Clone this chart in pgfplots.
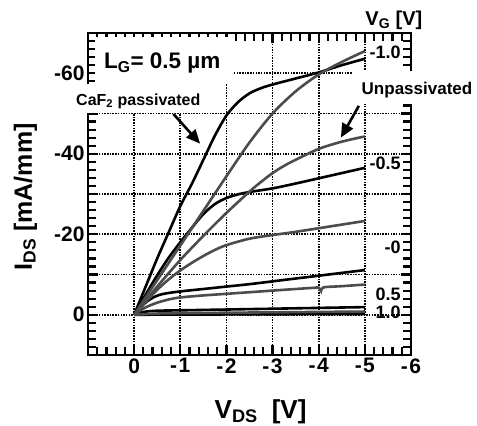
\documentclass[border=0pt]{standalone}
\usepackage{fontspec}
\setmainfont{Liberation Sans}
\usepackage{pgfplots}
\pgfplotsset{compat=1.18}
\usetikzlibrary{arrows.meta}
\definecolor{grayc}{gray}{0.30}
\newcommand{\fs}[1]{\fontsize{#1bp}{#1bp}\selectfont\bfseries}
\begin{document}
\begin{tikzpicture}[font=\bfseries]
\begin{axis}[
  at={(0,0)}, anchor=south west,
  scale only axis, width=323bp, height=322bp,
  x dir=reverse, y dir=reverse,
  xmin=-6, xmax=1, ymin=-70, ymax=10,
  xtick={-6,-5,-4,-3,-2,-1,0,1},
  xticklabels={-\kern1.5bp 6,-\kern1.5bp 5,-\kern1.5bp 4,-\kern1.5bp 3,-\kern1.5bp 2,-\kern1.5bp 1,0,{}},
  ytick={-70,-60,-50,-40,-30,-20,-10,0,10},
  yticklabels={{},-60,{},-40,{},-20,{},0,{}},
  minor x tick num=4, minor y tick num=4,
  grid=major,
  grid style={black, line width=1.8bp, dash pattern=on 1.5bp off 1.2bp},
  axis line style={line width=2.7bp},
  tick style={line width=2.2bp, black},
  major tick length=10bp, minor tick length=8bp,
  tick label style={font=\fs{21}},
  clip=false,
  every axis plot/.append style={line width=2.6bp, smooth, no markers},
]
% passivated (black)
\addplot[black] coordinates {(0,0) (-0.25,-7) (-0.5,-14) (-0.75,-20.5) (-1,-27) (-1.25,-32.5) (-1.5,-38.5) (-1.75,-44.5) (-2,-49.5) (-2.25,-52.8) (-2.5,-55) (-2.75,-56.3) (-3,-57.2) (-3.5,-58.7) (-4,-60.2) (-4.5,-62) (-5,-63.6)};
\addplot[black] coordinates {(0,0) (-0.25,-5) (-0.5,-9.8) (-0.75,-14.2) (-1,-18) (-1.25,-21.6) (-1.5,-25) (-1.75,-27.5) (-2,-29) (-2.25,-29.9) (-2.5,-30.5) (-3,-31.4) (-3.5,-32.6) (-4,-33.9) (-4.5,-35.2) (-5,-36.5)};
\addplot[black] coordinates {(0,0) (-0.1,-1.3) (-0.2,-2.5) (-0.3,-3.5) (-0.45,-4.5) (-0.6,-5.1) (-0.8,-5.5) (-1,-5.8) (-1.5,-6.4) (-2,-7.0) (-2.5,-7.6) (-3,-8.3) (-3.5,-9.0) (-4,-9.7) (-4.5,-10.4) (-5,-11.1)};
\addplot[black] coordinates {(0,0) (-0.2,-0.7) (-0.5,-1.0) (-1,-1.1) (-2,-1.3) (-3,-1.5) (-4,-1.7) (-5,-1.9)};
\addplot[black] coordinates {(0,0) (-2.5,-0.1) (-5,-0.2)};
% unpassivated (gray)
\addplot[grayc] coordinates {(0,0) (-0.5,-8.6) (-1,-17.2) (-1.5,-25.8) (-2,-34.4) (-2.5,-42.8) (-3,-50) (-3.5,-55.5) (-4,-59.7) (-4.5,-62.8) (-5,-65.5)};
\addplot[grayc] coordinates {(0,0) (-0.5,-7) (-1,-13.6) (-1.5,-19.6) (-2,-25.3) (-2.5,-30.6) (-2.75,-33) (-3,-35.2) (-3.25,-37) (-3.5,-38.5) (-4,-41.2) (-4.5,-43) (-5,-44.3)};
\addplot[grayc] coordinates {(0,0) (-0.25,-3.2) (-0.5,-6.2) (-0.75,-8.8) (-1,-11) (-1.25,-12.9) (-1.5,-14.6) (-1.75,-16.1) (-2,-17.3) (-2.5,-18.9) (-3,-19.8) (-3.5,-20.6) (-4,-21.5) (-4.5,-22.4) (-5,-23.3)};
\addplot[grayc] coordinates {(0,0) (-0.15,-1.2) (-0.3,-2.1) (-0.5,-3.0) (-0.75,-3.8) (-1,-4.3) (-1.5,-4.8) (-2,-5.2) (-2.5,-5.6) (-3,-6.0) (-3.5,-6.4) (-3.9,-6.7) (-4.0,-6.75) (-4.05,-5.9) (-4.1,-6.8) (-4.5,-7.1) (-5,-7.5)};
\addplot[grayc] coordinates {(0,0) (-0.5,-0.3) (-1,-0.4) (-3,-0.6) (-5,-0.8)};
% white label boxes
\fill[white] (axis cs:2.04,-57.3) rectangle (axis cs:-1.65,-50.1);
\fill[white] (axis cs:0.85,-68.9) rectangle (axis cs:-2.15,-57.5);
\fill[white] (axis cs:-4.74,-60.5) rectangle (axis cs:-7.46,-52.3);
% texts
\node[font=\fs{22.5}] at (axis cs:-0.61,-62.5) {L\textsubscript{G}= 0.5 µm};
\node[font=\fs{16}] at (axis cs:-0.09,-53.1) {CaF\textsubscript{2} passivated};
\node[font=\fs{17}] at (axis cs:-6.13,-55.9) {Unpassivated};
\node[font=\fs{20}] at (axis cs:-5.63,-73.1) {V\textsubscript{G} [V]};
\node[font=\fs{18}, anchor=east] at (axis cs:-5.85,-65.2) {-1.0};
\node[font=\fs{18}, anchor=east] at (axis cs:-5.85,-37.7) {-0.5};
\node[font=\fs{18}, anchor=east] at (axis cs:-5.85,-16.7) {-0};
\node[font=\fs{18}, anchor=east] at (axis cs:-5.85,-5.2) {0.5};
\node[font=\fs{18}, anchor=east] at (axis cs:-5.85,-0.6) {1.0};
% arrows
\draw[line width=2.6bp, -{Triangle[length=14bp,width=12bp]}] (axis cs:-0.85,-49.9) -- (axis cs:-1.43,-42.5);
\draw[line width=2.6bp, -{Triangle[length=14bp,width=12bp]}] (axis cs:-4.87,-51.9) -- (axis cs:-4.48,-44.0);
% axis labels
\node[font=\fs{26}, anchor=base] at (axis cs:-2.74,25.8) {V\textsubscript{DS}\hspace{14bp}[V]};
\node[font=\fs{25}, anchor=base, rotate=90] at (axis cs:2.217,-29.3) {I\textsubscript{DS} [mA/mm]};
\end{axis}
\pgfresetboundingbox
\path[use as bounding box] (-88bp,-71bp) rectangle (389bp,355bp);
\end{tikzpicture}
\end{document}
